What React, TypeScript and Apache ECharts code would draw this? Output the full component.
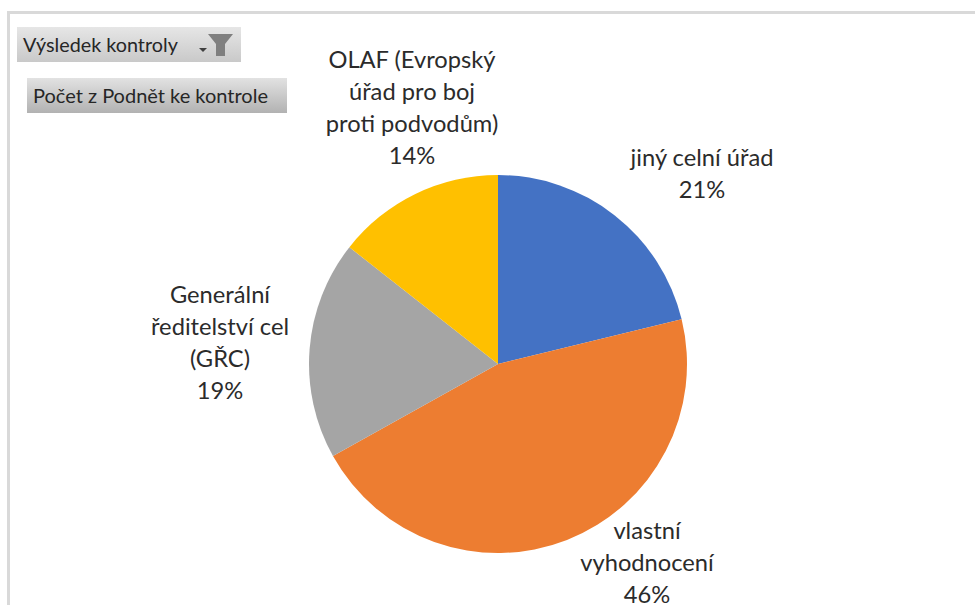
import React, { useEffect, useRef } from "react";
import * as echarts from "echarts";

const categories = ["jiný celní úřad", "vlastní vyhodnocení", "Generální ředitelství cel (GŘC)", "OLAF (Evropský úřad pro boj proti podvodům)"];
const values = [21.2, 45.7, 18.7, 14.4];
const labelTexts = [
  "jiný celní úřad\n21%",
  "vlastní\nvyhodnocení\n46%",
  "Generální\nředitelství cel\n(GŘC)\n19%",
  "OLAF (Evropský\núřad pro boj\nproti podvodům)\n14%",
];
const colors = ["#4472C4", "#ED7D31", "#A5A5A5", "#FFC000"];
const labelCenters = [[702, 173], [647, 562], [220, 342], [412, 107]];
const FONT = "Lato, Carlito, 'Open Sans', sans-serif";

const grad = (a: string, b: string) => new echarts.graphic.LinearGradient(0, 0, 0, 1, [
  { offset: 0, color: a }, { offset: 1, color: b },
]);

export default function App() {
  const ref = useRef<HTMLDivElement>(null);
  useEffect(() => {
    document.body.style.margin = "0";
    const chart = echarts.init(ref.current!, null, { renderer: "svg" });
    chart.setOption({
      animation: false,
      backgroundColor: "#ffffff",
      graphic: [
        { type: "line", shape: { x1: 8.5, y1: 12, x2: 8.5, y2: 605 }, style: { stroke: "#d9d9d9", lineWidth: 3 } },
        { type: "line", shape: { x1: 7, y1: 12.5, x2: 975, y2: 12.5 }, style: { stroke: "#d9d9d9", lineWidth: 3 } },
        { type: "rect", shape: { x: 17, y: 27, width: 224, height: 35 }, style: { fill: grad("#e6e6e6", "#c9c9c9") } },
        { type: "text", x: 23, y: 44, style: { text: "Výsledek kontroly", font: `19.8px ${FONT}`, fill: "#262626", verticalAlign: "middle" } },
        { type: "polygon", shape: { points: [[199, 48], [207, 48], [203, 52]] }, style: { fill: "#404040" } },
        { type: "polygon", shape: { points: [[208, 34], [233, 34], [225, 44], [225, 56], [216, 56], [216, 44]] }, style: { fill: "#7f7f7f" } },
        { type: "rect", shape: { x: 27, y: 78, width: 260, height: 35 }, style: { fill: grad("#e2e2e2", "#b2b2b2") } },
        { type: "text", x: 33, y: 95, style: { text: "Počet z Podnět ke kontrole", font: `20px ${FONT}`, fill: "#262626", verticalAlign: "middle" } },
      ],
      series: [{
        type: "pie",
        center: [498, 364],
        radius: [0, 189],
        startAngle: 90,
        clockwise: true,
        silent: true,
        label: {
          show: true,
          position: "outside",
          formatter: (p: any) => labelTexts[p.dataIndex],
          fontFamily: FONT,
          fontSize: 23.7,
          lineHeight: 32,
          color: "#2b2b2b",
          align: "center",
          verticalAlign: "middle",
        },
        labelLine: { show: false },
        labelLayout: (p: any) => ({
          x: labelCenters[p.dataIndex][0],
          y: labelCenters[p.dataIndex][1],
          align: "center",
          verticalAlign: "middle",
        }),
        data: categories.map((name, i) => ({ name, value: values[i], itemStyle: { color: colors[i] } })),
      }],
    });
    return () => chart.dispose();
  }, []);
  return <div ref={ref} style={{ width: 975, height: 605 }} />;
}
